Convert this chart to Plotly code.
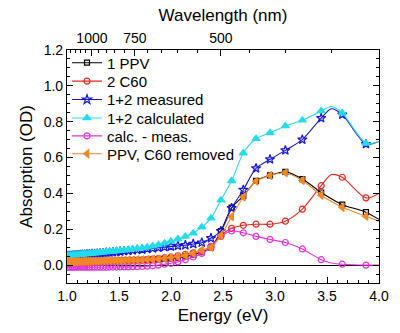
import plotly.graph_objects as go

# Marker wavelengths (nm) – markers every 20 nm
wavelength_nm = [1240, 1220, 1200, 1180, 1160, 1140, 1120, 1100, 1080, 1060,
                 1040, 1020, 1000, 980, 960, 940, 920, 900, 880, 860,
                 840, 820, 800, 780, 760, 740, 720, 700, 680, 660,
                 640, 620, 600, 580, 560, 540, 520, 500, 480, 460,
                 440, 420, 400, 380, 360, 340, 320]

ppv = [0.015, 0.015, 0.016, 0.016, 0.016, 0.017, 0.017, 0.017, 0.018, 0.018,
       0.018, 0.019, 0.019, 0.020, 0.020, 0.021, 0.021, 0.022, 0.022, 0.023,
       0.023, 0.024, 0.025, 0.025, 0.026, 0.027, 0.028, 0.029, 0.030, 0.032,
       0.034, 0.037, 0.041, 0.048, 0.058, 0.072, 0.098, 0.190, 0.320, 0.385,
       0.470, 0.500, 0.520, 0.480, 0.405, 0.337, 0.295]
c60 = [0.010, 0.010, 0.011, 0.011, 0.012, 0.012, 0.013, 0.013, 0.014, 0.014,
       0.015, 0.015, 0.016, 0.016, 0.017, 0.018, 0.018, 0.019, 0.020, 0.021,
       0.022, 0.023, 0.024, 0.025, 0.026, 0.028, 0.029, 0.031, 0.033, 0.036,
       0.040, 0.045, 0.052, 0.060, 0.068, 0.078, 0.105, 0.165, 0.205, 0.222,
       0.228, 0.228, 0.245, 0.312, 0.443, 0.490, 0.375]
measured = [0.050, 0.051, 0.052, 0.053, 0.054, 0.055, 0.056, 0.057, 0.058, 0.059,
            0.060, 0.061, 0.062, 0.063, 0.064, 0.066, 0.067, 0.069, 0.070, 0.072,
            0.074, 0.076, 0.078, 0.080, 0.082, 0.085, 0.087, 0.090, 0.093, 0.097,
            0.100, 0.104, 0.107, 0.111, 0.118, 0.125, 0.150, 0.190, 0.318, 0.420,
            0.540, 0.590, 0.640, 0.700, 0.820, 0.840, 0.675]
calculated = [0.052, 0.053, 0.054, 0.055, 0.056, 0.057, 0.058, 0.059, 0.060, 0.061,
              0.062, 0.064, 0.065, 0.066, 0.068, 0.069, 0.071, 0.073, 0.075, 0.077,
              0.079, 0.081, 0.083, 0.086, 0.089, 0.092, 0.096, 0.100, 0.106, 0.113,
              0.122, 0.133, 0.145, 0.160, 0.178, 0.212, 0.262, 0.362, 0.470, 0.625,
              0.705, 0.738, 0.776, 0.808, 0.860, 0.848, 0.680]
calc_minus_meas = [-0.012, -0.012, -0.012, -0.012, -0.012, -0.012, -0.012, -0.012, -0.012, -0.012,
                   -0.012, -0.012, -0.012, -0.012, -0.012, -0.012, -0.012, -0.012, -0.011, -0.011,
                   -0.011, -0.010, -0.010, -0.010, -0.009, -0.009, -0.008, -0.006, -0.004, 0.000,
                   0.005, 0.010, 0.018, 0.030, 0.045, 0.065, 0.100, 0.160, 0.190, 0.180,
                   0.160, 0.143, 0.126, 0.090, 0.030, 0.005, 0.000]
ppv_c60_removed = [0.018, 0.018, 0.019, 0.019, 0.019, 0.020, 0.020, 0.020, 0.021, 0.021,
                   0.021, 0.022, 0.022, 0.023, 0.023, 0.023, 0.024, 0.024, 0.025, 0.025,
                   0.026, 0.026, 0.027, 0.028, 0.028, 0.029, 0.030, 0.031, 0.032, 0.034,
                   0.037, 0.041, 0.047, 0.054, 0.066, 0.082, 0.098, 0.165, 0.270, 0.380,
                   0.468, 0.500, 0.515, 0.472, 0.390, 0.322, 0.272]

# Extra line-only points (no marker)
extra_wavelength_nm = [350, 310]
ppv_extra = [0.370, 0.255]
c60_extra = [0.505, 0.400]
measured_extra = [0.872, 0.690]
calculated_extra = [0.885, 0.690]
calc_minus_meas_extra = [0.012, 0.000]
ppv_c60_removed_extra = [0.355, 0.245]

# Top-axis wavelength ticks
top_major_nm = [1000, 750, 500]
top_minor_nm = [1200, 1150, 1100, 1050, 950, 900, 850, 800, 700, 650, 600, 550,
                450, 400, 350]

HC = 1239.84  # eV*nm


def ev(wl):
    return [HC / w for w in wl]


series = [
    ("1 PPV", ppv, ppv_extra, "black", "black", "square-open", 5),
    ("2 C60", c60, c60_extra, "#e0281e", "#e0281e", "circle-open", 6),
    ("1+2 measured", measured, measured_extra, "#1c1ca8", "#1515e6", "star-open", 7),
    ("1+2 calculated", calculated, calculated_extra, "#2ad8e6", "#22dcec", "triangle-up", 7),
    ("calc. - meas.", calc_minus_meas, calc_minus_meas_extra, "#e030d8", "#e030d8", "circle-open", 6),
    ("PPV, C60 removed", ppv_c60_removed, ppv_c60_removed_extra, "#f08828", "#f08828", "triangle-left", 7),
]

# plot area in pixels: top 50, bottom 284
PLOT_TOP, PLOT_BOTTOM = 50, 284
legend_centers_px = [63, 81.5, 100, 118.5, 136.5, 154.5]

fig = go.Figure()
legend_layout = {}
for i, (name, vals, extra, lcol, mcol, sym, ms) in enumerate(series):
    pts = sorted(zip(ev(wavelength_nm) + ev(extra_wavelength_nm), vals + extra))
    fig.add_trace(go.Scatter(
        x=[p[0] for p in pts], y=[p[1] for p in pts], mode="lines",
        line=dict(color=lcol, width=1.1, shape="spline", smoothing=0.8),
        showlegend=False, hoverinfo="skip"))
    fig.add_trace(go.Scatter(
        x=ev(wavelength_nm), y=vals, mode="markers",
        marker=dict(symbol=sym, size=ms, color=mcol, line=dict(color=mcol, width=1.2)),
        showlegend=False))
    lg = "legend" if i == 0 else f"legend{i + 1}"
    fig.add_trace(go.Scatter(
        x=[None], y=[None], mode="lines+markers", name=name, legend=lg,
        line=dict(color=lcol, width=1.1),
        marker=dict(symbol=sym, size=ms, color=mcol, line=dict(color=mcol, width=1.2))))
    yc = (PLOT_BOTTOM - legend_centers_px[i]) / (PLOT_BOTTOM - PLOT_TOP)
    legend_layout[lg] = dict(x=0.0, y=yc, xanchor="left", yanchor="middle",
                             bgcolor="rgba(0,0,0,0)", font=dict(size=15),
                             itemwidth=30, borderwidth=0)

font = dict(family="Liberation Sans, Arial, sans-serif", size=14, color="black")

fig.add_trace(go.Scatter(x=[None], y=[None], xaxis="x2", showlegend=False))

fig.update_layout(
    width=400, height=333,
    margin=dict(l=67, r=11, t=50, b=49),
    paper_bgcolor="white", plot_bgcolor="white",
    font=font,
    showlegend=True,
    xaxis=dict(range=[1.0, 4.0], tickvals=[1.0, 1.5, 2.0, 2.5, 3.0, 3.5, 4.0],
               ticktext=["1.0", "1.5", "2.0", "2.5", "3.0", "3.5", "4.0"],
               ticks="inside", ticklen=6, tickcolor="black", tickwidth=1,
               minor=dict(dtick=0.1, tick0=1.0, ticks="inside", ticklen=3, tickcolor="black"),
               showline=True, linecolor="black", linewidth=1.2, showgrid=False,
               zeroline=False,
               title=dict(text="Energy (eV)", standoff=6)),
    xaxis2=dict(overlaying="x", side="top", range=[1.0, 4.0],
                tickmode="array", tickvals=ev(top_major_nm),
                ticktext=[str(w) for w in top_major_nm],
                ticks="inside", ticklen=6, tickcolor="black",
                minor=dict(tickvals=ev(top_minor_nm), ticks="inside", ticklen=3,
                           tickcolor="black"),
                showline=True, linecolor="black", linewidth=1.2, showgrid=False,
                zeroline=False,
                title=dict(text="Wavelength (nm)", standoff=4)),
    yaxis=dict(range=[-0.1, 1.2], tickvals=[0.0, 0.2, 0.4, 0.6, 0.8, 1.0, 1.2],
               ticktext=["0.0", "0.2", "0.4", "0.6", "0.8", "1.0", "1.2"],
               ticks="inside", ticklen=6, tickcolor="black",
               minor=dict(dtick=0.05, tick0=0, ticks="inside", ticklen=3, tickcolor="black"),
               showline=True, linecolor="black", linewidth=1.2, mirror="ticks",
               showgrid=False, zeroline=True, zerolinecolor="black", zerolinewidth=1,
               title=dict(text="Absorption (OD)", standoff=6)),
    **legend_layout,
)

fig.write_html("out.html")
